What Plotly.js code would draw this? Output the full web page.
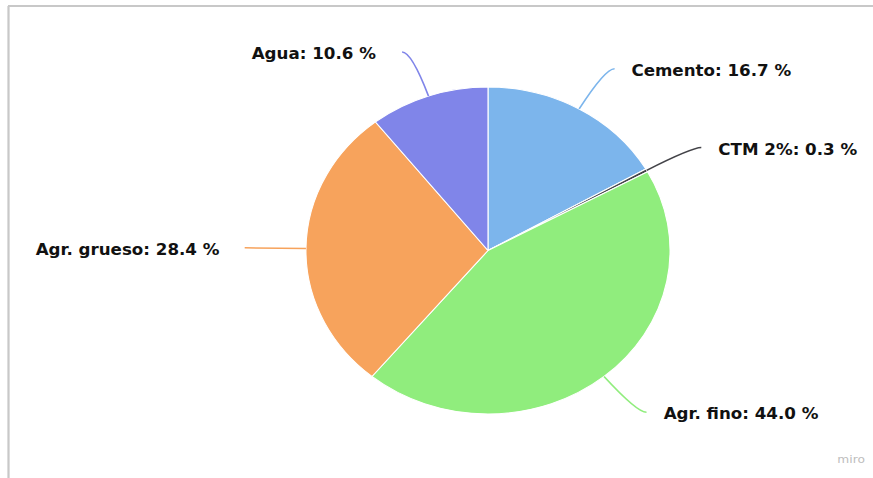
<!DOCTYPE html>
<html><head><meta charset="utf-8">
<script src="https://cdn.plot.ly/plotly-3.0.1.min.js"></script>
<style>html,body{margin:0;padding:0;background:#fff;overflow:hidden;}
#chart{width:784px;height:478px;transform:scaleX(1.1135);transform-origin:0 0;}</style>
</head><body><div id="chart"></div>
<script>
const categories = ['Cemento', 'CTM 2%', 'Agr. fino', 'Agr. grueso', 'Agua'];
const shares = [16.7, 0.3, 44.0, 28.4, 10.6];
const colors = ['#7cb5ec', '#434348', '#90ed7d', '#f7a35c', '#8085e9'];

const S = 1.1135, H = 478, W = 873 / S;
const cx = 488 / S, cy = 250.5, r = 163.5;
const Rl = 210, extra = 8.5, gapR = 13.5, gapL = 21;
const px = x => x / W, py = y => 1 - y / H;

const total = shares.reduce((a, b) => a + b, 0);
let cum = 0;
const shapes = [
  {type:'line', xref:'paper', yref:'paper', x0:px(8/S), x1:1.01, y0:py(6), y1:py(6), line:{color:'#c8c8c8', width:2}},
  {type:'line', xref:'paper', yref:'paper', x0:px(8.5/S), x1:px(8.5/S), y0:py(6), y1:-0.01, line:{color:'#c8c8c8', width:2}}
];
const annotations = [];
shares.forEach((v, i) => {
  const th = (cum + v / 2) / total * 2 * Math.PI; cum += v;
  const s = Math.sin(th), c = Math.cos(th);
  const sign = s >= 0 ? 1 : -1;
  const ex = cx + r * s, ey = cy - r * c;
  const ly = cy - Rl * c;
  const ctrlx = cx + Rl * s;
  const lx = ctrlx + sign * extra;
  shapes.push({type:'path', xref:'paper', yref:'paper',
    path:`M${px(lx)},${py(ly)} Q${px(ctrlx)},${py(ly)} ${px(ex)},${py(ey)}`,
    line:{color:colors[i], width:1.5}});
  annotations.push({xref:'paper', yref:'paper', x:px(lx + sign * (sign > 0 ? gapR : gapL)), y:py(ly + 2),
    xanchor: sign > 0 ? 'left' : 'right', yanchor:'middle', showarrow:false,
    text: `${categories[i]}: ${v.toFixed(1)} %`,
    font:{family:'DejaVu Sans', size:15, color:'#111', weight:'bold'}});
});
annotations.push({xref:'paper', yref:'paper', x:px(851/S), y:py(459), xanchor:'center', yanchor:'middle',
  showarrow:false, text:'miro', font:{family:'DejaVu Sans', size:11, color:'#bdbdbd'}});

Plotly.newPlot('chart', [{
  type:'pie', labels:categories, values:shares, sort:false, direction:'clockwise', rotation:0,
  marker:{colors:colors, line:{color:'#ffffff', width:1}}, textinfo:'none', hoverinfo:'none',
  domain:{x:[px(cx - r), px(cx + r)], y:[py(cy + r), py(cy - r)]}, showlegend:false
}], {
  width:W, height:H, margin:{l:0, r:0, t:0, b:0}, paper_bgcolor:'#fff', showlegend:false,
  shapes:shapes, annotations:annotations
}, {staticPlot:true, displayModeBar:false});
</script></body></html>
